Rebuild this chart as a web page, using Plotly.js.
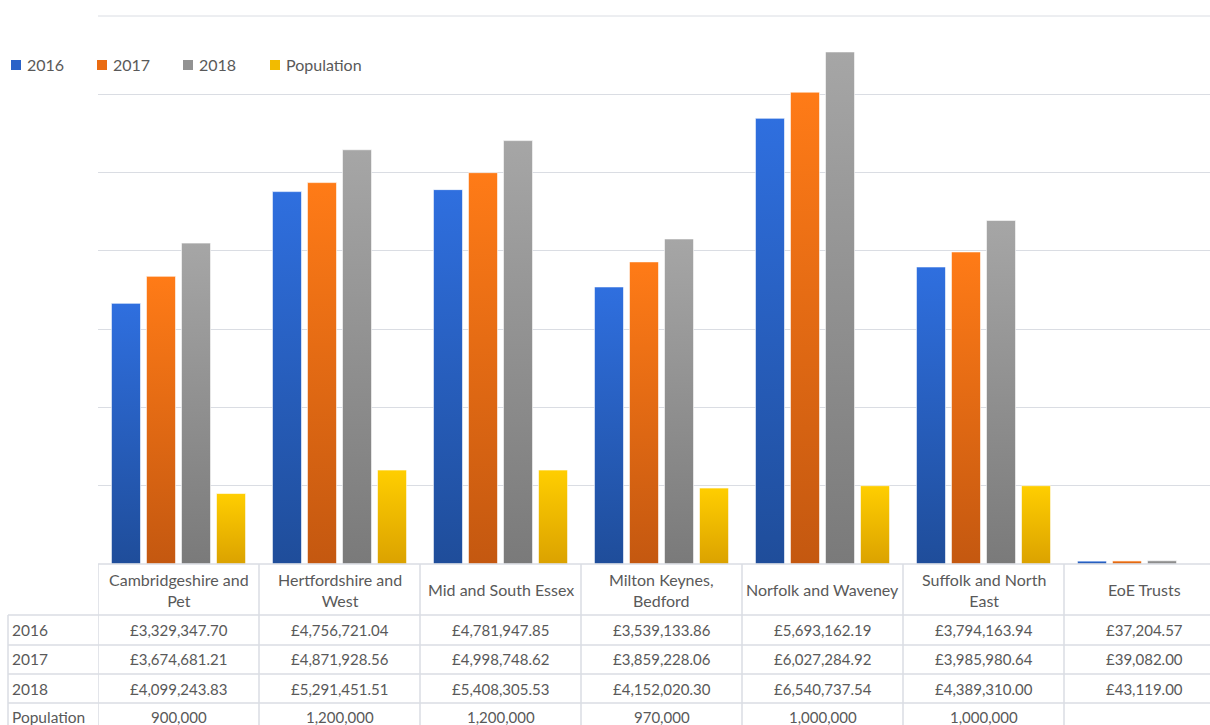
<!DOCTYPE html>
<html><head><meta charset="utf-8">
<script src="https://cdn.plot.ly/plotly-3.0.1.min.js"></script>
<style>html,body{margin:0;padding:0;overflow:hidden;background:#fff;width:1210px;height:725px}</style>
</head><body>
<div id="chart" style="width:1230px;height:725px"></div>
<script>
const categories = ['Cambridgeshire and Pet','Hertfordshire and West','Mid and South Essex','Milton Keynes, Bedford','Norfolk and Waveney','Suffolk and North East','EoE Trusts'];
const categoryLabels = ['Cambridgeshire and<br>Pet','Hertfordshire and<br>West','Mid and South Essex','Milton Keynes,<br>Bedford','Norfolk and Waveney','Suffolk and North<br>East','EoE Trusts'];
const seriesNames = ['2016','2017','2018','Population'];
const v2016 = [3329347.70,4756721.04,4781947.85,3539133.86,5693162.19,3794163.94,37204.57];
const v2017 = [3674681.21,4871928.56,4998748.62,3859228.06,6027284.92,3985980.64,39082.00];
const v2018 = [4099243.83,5291451.51,5408305.53,4152020.30,6540737.54,4389310.00,43119.00];
const population = [900000,1200000,1200000,970000,1000000,1000000,null];

const colors = ['#2a62c8','#ea6b12','#929292','#f2bb00'];
const gradients = [['#2f6fdf','#1f4d9a'],['#ff7b17','#c45810'],['#a6a6a6','#7a7a7a'],['#ffce00','#dba200']];
const allSeries = [v2016, v2017, v2018, population];

const W = 1230, H = 725;
const plotLeft = 98, plotRight = 1225, plotTop = 16, plotBottom = 564;
const plotW = plotRight - plotLeft, plotH = plotBottom - plotTop;
const py = p => (plotBottom - p) / plotH;
const px = p => (p - plotLeft) / plotW;
const textColor = '#595959';
const lineColor = '#dadde3';
const fontFam = 'Lato, "Open Sans", sans-serif';

const traces = allSeries.map((vals, i) => ({
  type: 'bar', name: seriesNames[i], x: categories.map((c, k) => k), y: vals,
  marker: {color: colors[i], line: {color: 'rgba(255,255,255,0.6)', width: 1}},
  hoverinfo: 'skip', showlegend: false
}));

const fmtMoney = v => '£' + v.toLocaleString('en-GB', {minimumFractionDigits: 2, maximumFractionDigits: 2});
const fmtPop = v => v == null ? '' : v.toLocaleString('en-GB');

const annotations = [];
const shapes = [];
const rowCenters = [630, 659, 689, 717];
categoryLabels.forEach((lab, k) => {
  annotations.push({x: k, xref: 'x', y: py(590), yref: 'paper', text: lab, showarrow: false,
    font: {size: 16, color: textColor, family: fontFam}, yanchor: 'middle', align: 'center'});
});
allSeries.forEach((vals, i) => {
  annotations.push({x: px(10), xref: 'paper', xanchor: 'left', y: py(rowCenters[i]), yref: 'paper',
    text: seriesNames[i], showarrow: false, font: {size: 15.5, color: textColor, family: fontFam}, yanchor: 'middle'});
  vals.forEach((v, k) => {
    const t = i < 3 ? fmtMoney(v) : fmtPop(v);
    if (!t) return;
    annotations.push({x: k, xref: 'x', y: py(rowCenters[i]), yref: 'paper', text: t, showarrow: false,
      font: {size: 15, color: textColor, family: fontFam}, yanchor: 'middle'});
  });
});

// manual legend
const legendX = [11, 97, 183, 270];
seriesNames.forEach((n, i) => {
  shapes.push({type: 'rect', xref: 'paper', yref: 'paper', x0: px(legendX[i]), x1: px(legendX[i] + 10),
    y0: py(70), y1: py(60), fillcolor: colors[i], line: {width: 0}});
  annotations.push({x: px(legendX[i] + 14), xref: 'paper', xanchor: 'left', y: py(65), yref: 'paper', yanchor: 'middle',
    text: n, showarrow: false, font: {size: 16, color: textColor, family: fontFam}});
});

const ln = {color: lineColor, width: 1.5};
[615, 645, 674, 703].forEach(p => shapes.push({type: 'line', xref: 'paper', x0: px(8), x1: 1, yref: 'paper', y0: py(p), y1: py(p), line: ln}));
shapes.push({type: 'line', xref: 'paper', x0: 0, x1: 1, yref: 'paper', y0: 0, y1: 0, line: ln});
shapes.push({type: 'line', xref: 'paper', x0: 0, x1: 1, yref: 'paper', y0: 1, y1: 1, line: {color: lineColor, width: 1}, layer: 'below'});
for (let k = 0; k < categories.length; k++) {
  shapes.push({type: 'line', xref: 'x', x0: k - 0.5, x1: k - 0.5, yref: 'paper', y0: 0, y1: py(730), line: ln});
}
shapes.push({type: 'line', xref: 'paper', x0: px(8), x1: px(8), yref: 'paper', y0: py(615), y1: py(730), line: ln});

const layout = {
  width: W, height: H,
  margin: {l: plotLeft, r: W - plotRight, t: plotTop, b: H - plotBottom, pad: 0, autoexpand: false},
  paper_bgcolor: '#fff', plot_bgcolor: '#fff',
  barmode: 'group', bargap: 0.13, bargroupgap: 0.17,
  font: {family: fontFam, color: textColor, size: 14},
  xaxis: {range: [-0.5, 6.5], showticklabels: false, showgrid: false, zeroline: false, showline: false, ticks: ''},
  yaxis: {range: [0, 7000000], dtick: 1000000, showticklabels: false, showgrid: true, gridcolor: lineColor, gridwidth: 1, zeroline: false, ticks: ''},
  showlegend: false,
  annotations: annotations, shapes: shapes
};

Plotly.newPlot('chart', traces, layout, {staticPlot: true, displayModeBar: false}).then(gd => {
  const svg = gd.querySelector('svg.main-svg');
  const ns = 'http://www.w3.org/2000/svg';
  let defs = svg.querySelector('defs');
  gradients.forEach((g, i) => {
    const lg = document.createElementNS(ns, 'linearGradient');
    lg.setAttribute('id', 'grad' + i);
    lg.setAttribute('x1', '0'); lg.setAttribute('y1', '0'); lg.setAttribute('x2', '0'); lg.setAttribute('y2', '1');
    [[0, g[0]], [1, g[1]]].forEach(([o, c]) => {
      const s = document.createElementNS(ns, 'stop');
      s.setAttribute('offset', o); s.setAttribute('stop-color', c); lg.appendChild(s);
    });
    defs.appendChild(lg);
  });
  gd.querySelectorAll('.barlayer .trace.bars').forEach((tg, i) => {
    tg.querySelectorAll('path').forEach(p => { p.style.fill = 'url(#grad' + i + ')'; });
  });
});
</script>
</body></html>
